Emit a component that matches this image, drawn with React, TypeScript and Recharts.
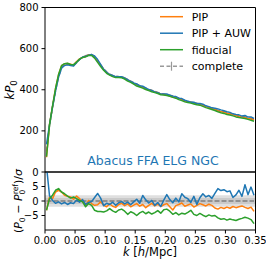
import React from 'react';
import { LineChart, Line, XAxis, YAxis, ReferenceArea } from 'recharts';

const FONT = '"DejaVu Sans", sans-serif';
const ORANGE = '#ff7f0e';
const BLUE = '#1f77b4';
const GREEN = '#2ca02c';
const GRAY = '#7f7f7f';

const kValues = [
  0.0025, 0.0075, 0.0125, 0.0175, 0.0225, 0.0275, 0.0325, 0.0375, 0.0425, 0.0475,
  0.0525, 0.0575, 0.0625, 0.0675, 0.0725, 0.0775, 0.0825, 0.0875, 0.0925, 0.0975,
  0.1025, 0.1075, 0.1125, 0.1175, 0.1225, 0.1275, 0.1325, 0.1375, 0.1425, 0.1475,
  0.1525, 0.1575, 0.1625, 0.1675, 0.1725, 0.1775, 0.1825, 0.1875, 0.1925, 0.1975,
  0.2025, 0.2075, 0.2125, 0.2175, 0.2225, 0.2275, 0.2325, 0.2375, 0.2425, 0.2475,
  0.2525, 0.2575, 0.2625, 0.2675, 0.2725, 0.2775, 0.2825, 0.2875, 0.2925, 0.2975,
  0.3025, 0.3075, 0.3125, 0.3175, 0.3225, 0.3275, 0.3325, 0.3375, 0.3425, 0.3475,
];

// k P0 (top panel)
const completeP0 = [
  100, 225, 315, 395, 462, 508, 520, 524, 520, 518,
  532, 548, 558, 565, 569, 571, 561, 541, 521, 502,
  487, 476, 470, 466, 464, 463, 458, 450, 442, 434,
  427, 420, 414, 408, 402, 397, 392, 387, 382, 379,
  376, 373, 370, 365, 359, 353, 347, 343, 340, 337,
  334, 331, 326, 320, 315, 311, 306, 301, 297, 293,
  289, 285, 281, 277, 273, 270, 267, 264, 261, 258,
];
const pipP0 = [
  72, 232, 318, 405, 472, 517, 526, 528, 524, 520,
  537, 550, 557, 561, 570, 569, 558, 538, 520, 499,
  483, 474, 467, 462, 462, 462, 455, 448, 438, 431,
  425, 417, 412, 404, 399, 396, 389, 385, 379, 377,
  375, 370, 365, 362, 357, 352, 344, 341, 338, 334,
  332, 330, 324, 318, 314, 309, 303, 297, 294, 290,
  286, 282, 278, 274, 270, 268, 264, 260, 258, 253,
];
const auwP0 = [
  135, 229, 315, 393, 461, 505, 518, 521, 518, 516,
  533, 547, 559, 562, 568, 571, 564, 547, 523, 499,
  485, 474, 469, 463, 463, 463, 456, 449, 440, 433,
  428, 419, 417, 409, 401, 397, 389, 386, 379, 379,
  379, 374, 369, 367, 359, 357, 349, 344, 339, 339,
  332, 333, 330, 322, 318, 312, 310, 307, 302, 298,
  293, 290, 283, 280, 278, 272, 275, 267, 268, 261,
];
const fiducialP0 = [
  75, 229, 321, 406, 474, 517, 527, 529, 523, 522,
  534, 549, 557, 560, 567, 567, 554, 533, 513, 495,
  480, 471, 464, 459, 459, 458, 452, 442, 436, 427,
  418, 413, 408, 401, 396, 390, 386, 382, 376, 374,
  372, 368, 363, 359, 352, 347, 341, 338, 335, 331,
  327, 325, 319, 313, 309, 304, 299, 293, 288, 285,
  280, 277, 273, 268, 265, 263, 260, 256, 252, 247,
];

// (P0 - P0ref)/sigma (bottom panel)
const completeRes = [
  0, 0, 0, 0, 0, 0, 0, 0, 0, 0,
  0, 0, 0, 0, 0, 0, 0, 0, 0, 0,
  0, 0, 0, 0, 0, 0, 0, 0, 0, 0,
  0, 0, 0, 0, 0, 0, 0, 0, 0, 0,
  0, 0, 0, 0, 0, 0, 0, 0, 0, 0,
  0, 0, 0, 0, 0, 0, 0, 0, 0, 0,
  0, 0, 0, 0, 0, 0, 0, 0, 0, 0,
];
const pipRes = [
  -3.2, 1.4, 0.8, 3.1, 3.7, 3.1, 2.0, 1.6, 1.4, 0.6,
  1.7, 0.8, -0.3, -1.5, 0.2, -0.9, -1.5, -1.3, -0.3, -1.5,
  -2.0, -1.0, -1.8, -2.2, -1.2, -0.8, -1.6, -1.0, -2.0, -1.4,
  -0.9, -1.8, -1.2, -2.3, -1.5, -0.8, -1.7, -1.1, -1.9, -1.3,
  -0.9, -2.0, -3.1, -1.6, -1.2, -0.7, -1.8, -1.4, -1.0, -2.1,
  -1.5, -0.9, -1.3, -1.7, -1.1, -1.5, -2.4, -2.8, -2.2, -2.6,
  -2.1, -2.5, -1.9, -2.3, -2.0, -1.7, -2.2, -2.6, -2.1, -3.6,
];
const auwRes = [
  12, 1.8, 0.2, -0.8, -0.3, -1.0, -0.5, -1.2, -0.6, -0.9,
  0.3, -0.4, 0.5, -1.2, -0.5, -0.2, 1.2, 2.6, 1.0, -1.6,
  -0.8, -1.2, -0.4, -1.5, -0.6, -0.2, -1.0, -0.4, -1.3, -0.3,
  0.6, -0.8, 1.9, 0.4, -0.7, 0.2, -1.5, -0.5, -1.9, 0.3,
  2.2, 0.5, -0.6, 1.0, -0.3, 2.5, 1.3, 0.8, -0.5, 1.6,
  -1.2, 1.1, 2.5, 1.4, 1.9, 0.9, 2.6, 4.3, 3.6, 3.9,
  3.2, 3.5, 1.2, 2.1, 3.7, 1.6, 5.6, 2.2, 4.8, 2.0,
];
const fiducialRes = [
  -3.2, 0.8, 2.0, 3.7, 4.3, 3.1, 2.5, 1.7, 1.0, 1.4,
  0.8, 0.2, -0.3, -2.0, -0.9, -1.5, -3.2, -3.6, -3.6, -3.8,
  -3.4, -2.6, -3.4, -3.9, -3.1, -2.8, -3.5, -4.6, -3.7, -4.2,
  -5.0, -4.1, -3.6, -4.4, -3.8, -4.5, -4.0, -3.3, -4.2, -3.0,
  -2.8, -3.5, -4.6, -4.0, -4.8, -4.2, -4.5, -3.9, -3.2, -4.6,
  -5.0, -4.3, -4.9, -5.4, -4.8, -5.2, -5.0, -5.8, -6.3, -6.1,
  -6.6, -6.2, -6.5, -6.7, -6.3, -6.0, -5.6, -5.9, -6.4, -7.8,
];

const topTicks = [0, 200, 400, 600, 800];
const resTicks = [-5, 0, 5];
const kTicks = [0, 0.05, 0.1, 0.15, 0.2, 0.25, 0.3, 0.35];

const legendItems = [
  { label: 'PIP', color: ORANGE, dashed: false },
  { label: 'PIP + AUW', color: BLUE, dashed: false },
  { label: 'fiducial', color: GREEN, dashed: false },
  { label: 'complete', color: '#999999', dashed: true },
];

const topData = kValues.map((k, i) => ({
  k,
  complete: completeP0[i],
  pip: pipP0[i],
  auw: auwP0[i],
  fiducial: fiducialP0[i],
}));
const resData = kValues.map((k, i) => ({
  k,
  complete: completeRes[i],
  pip: pipRes[i],
  auw: auwRes[i],
  fiducial: fiducialRes[i],
}));

const tickStyle = { fontSize: 10, fill: '#000', fontFamily: FONT };
const minus = (v: number) => (v < 0 ? '\u2212' + Math.abs(v) : String(v));

export default function App() {
  return (
    <div style={{ position: 'absolute', left: 0, top: 0, width: 266, height: 266, background: '#fff' }}>
      <div style={{ position: 'absolute', left: 0, top: 160 }}>
        <LineChart width={266} height={106} data={resData} margin={{ top: 12, right: 10.5, bottom: 0, left: 0 }}>
          <XAxis
            dataKey="k"
            type="number"
            domain={[0, 0.35]}
            ticks={kTicks}
            interval={0}
            height={36}
            tickSize={3.5}
            tickMargin={3}
            axisLine={false}
            tickLine={{ stroke: '#000' }}
            tick={tickStyle}
            tickFormatter={(v: number) => v.toFixed(2)}
          />
          <YAxis
            type="number"
            domain={[-10, 10]}
            allowDataOverflow
            ticks={resTicks}
            interval={0}
            width={45}
            tickSize={3.5}
            tickMargin={3}
            axisLine={false}
            tickLine={{ stroke: '#000' }}
            tick={tickStyle}
            tickFormatter={minus}
          />
          <ReferenceArea x1={0} x2={0.35} y1={-2} y2={2} fill="#8c8c8c" fillOpacity={0.28} stroke="none" />
          <ReferenceArea x1={0} x2={0.35} y1={-1} y2={1} fill="#8c8c8c" fillOpacity={0.25} stroke="none" />
          <Line dataKey="complete" stroke={GRAY} strokeWidth={1.5} strokeDasharray="5 2" dot={false} isAnimationActive={false} />
          <Line dataKey="pip" stroke={ORANGE} strokeWidth={1.5} strokeLinejoin="round" dot={false} isAnimationActive={false} />
          <Line dataKey="auw" stroke={BLUE} strokeWidth={1.5} strokeLinejoin="round" dot={false} isAnimationActive={false} />
          <Line dataKey="fiducial" stroke={GREEN} strokeWidth={1.5} strokeLinejoin="round" dot={false} isAnimationActive={false} />
          <ReferenceArea x1={0} x2={0.35} y1={-10} y2={10} fill="none" stroke="#000" strokeWidth={1} />
        </LineChart>
      </div>
      <div style={{ position: 'absolute', left: 0, top: 0 }}>
        <LineChart width={266} height={180} data={topData} margin={{ top: 7.5, right: 10.5, bottom: 8, left: 0 }}>
          <XAxis dataKey="k" type="number" domain={[0, 0.35]} hide />
          <YAxis
            type="number"
            domain={[0, 800]}
            ticks={topTicks}
            width={45}
            tickSize={3.5}
            tickMargin={3}
            axisLine={false}
            tickLine={{ stroke: '#000' }}
            tick={tickStyle}
            interval={0}
          />
          <Line dataKey="complete" stroke={GRAY} strokeWidth={1.5} strokeDasharray="5 2" dot={false} isAnimationActive={false} />
          <Line dataKey="pip" stroke={ORANGE} strokeWidth={1.5} strokeLinejoin="round" dot={false} isAnimationActive={false} />
          <Line dataKey="auw" stroke={BLUE} strokeWidth={1.5} strokeLinejoin="round" dot={false} isAnimationActive={false} />
          <Line dataKey="fiducial" stroke={GREEN} strokeWidth={1.5} strokeLinejoin="round" dot={false} isAnimationActive={false} />
          <ReferenceArea x1={0} x2={0.35} y1={0} y2={800} fill="none" stroke="#000" strokeWidth={1} />
        </LineChart>
      </div>
      <svg width={266} height={266} style={{ position: 'absolute', left: 0, top: 0, pointerEvents: 'none' }}>
        <g>
          {legendItems.map((it, i) => {
            const cy = 16.7 + i * 16.5;
            return (
              <g key={it.label}>
                {it.dashed ? (
                  <g>
                    <line x1={160} x2={183} y1={cy} y2={cy} stroke={it.color} strokeWidth={1.5} strokeDasharray="4 2.5" />
                    <line x1={171.5} x2={171.5} y1={cy - 4.5} y2={cy + 4.5} stroke={it.color} strokeWidth={1.2} />
                  </g>
                ) : (
                  <line x1={160} x2={183} y1={cy} y2={cy} stroke={it.color} strokeWidth={1.5} />
                )}
                <text x={191.7} y={cy + 4} fontSize={11} fontFamily={FONT} fill="#000">
                  {it.label}
                </text>
              </g>
            );
          })}
        </g>
        <text x={153} y={164.5} textAnchor="middle" fontSize={12.5} fontFamily={FONT} fill={BLUE}>
          Abacus FFA ELG NGC
        </text>
        <text transform="translate(14,90) rotate(-90)" textAnchor="middle" fontSize={12} fontFamily={FONT} fill="#000">
          <tspan fontStyle="italic">kP</tspan>
          <tspan fontSize={8.5} dy={3}>0</tspan>
        </text>
        <text transform="translate(22,201) rotate(-90)" textAnchor="middle" fontSize={11} fontFamily={FONT} fill="#000">
          <tspan>(</tspan>
          <tspan fontStyle="italic">P</tspan>
          <tspan fontSize={7.7} dy={2.5}>0</tspan>
          <tspan dy={-2.5}> − </tspan>
          <tspan fontStyle="italic">P</tspan>
          <tspan fontSize={7.7} dy={2.5}>0</tspan>
          <tspan fontSize={7.7} dx={-4.9} dy={-7}>
            ref
          </tspan>
          <tspan dy={4.5}>)/</tspan>
          <tspan fontStyle="italic">σ</tspan>
        </text>
        <text x={150} y={256} textAnchor="middle" fontSize={11.5} fontFamily={FONT} fill="#000">
          <tspan fontStyle="italic">k</tspan>
          <tspan> [</tspan>
          <tspan fontStyle="italic">h</tspan>
          <tspan>/Mpc]</tspan>
        </text>
      </svg>
    </div>
  );
}
